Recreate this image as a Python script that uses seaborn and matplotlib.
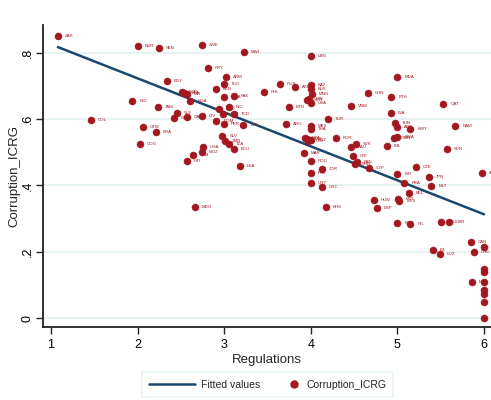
import numpy as np
import pandas as pd
import seaborn as sns
import matplotlib.pyplot as plt
from matplotlib.lines import Line2D
from matplotlib.legend_handler import HandlerLine2D

# regulations score (x), ICRG corruption (y), country code
regulations = [1.08, 2.00, 2.25, 2.74, 3.23, 4.00, 2.81, 3.02, 3.00, 2.34,
               2.51, 2.54, 2.57, 2.90, 3.00, 3.11, 2.61, 1.94, 2.24, 2.45,
               2.42, 2.57, 2.74, 1.46, 2.06, 2.21, 2.03, 3.46, 3.64, 3.82,
               4.00, 4.00, 4.01, 3.98, 4.00, 3.95, 3.75, 2.94, 3.05, 2.99,
               2.91, 3.00, 3.22, 3.71, 4.00, 4.00, 4.20, 2.98, 3.01, 3.05,
               3.11, 2.75, 2.74, 2.64, 2.57, 3.18, 2.66, 3.92, 3.97, 3.95,
               4.00, 4.00, 4.00, 4.13, 4.13, 4.17, 5.00, 4.66, 4.93, 4.46,
               5.53, 4.92, 4.97, 4.99, 5.15, 5.67, 4.29, 4.96, 5.00, 4.88,
               5.57, 4.46, 4.52, 4.49, 4.53, 4.51, 4.67, 5.21, 5.00, 5.36,
               5.98, 5.08, 5.39, 5.13, 4.73, 5.01, 5.02, 4.76, 5.00, 5.15,
               5.50, 5.59, 5.85, 6.00, 5.41, 5.49, 5.88, 6.00, 6.00, 5.86,
               6.00, 6.00, 6.00, 6.00, 6.00, 3.11, 3.93, 4.00]
corruption = [0.851, 0.821, 0.814, 0.824, 0.803, 0.791, 0.753, 0.728, 0.706, 0.716,
              0.681, 0.680, 0.676, 0.691, 0.668, 0.670, 0.656, 0.654, 0.636, 0.620,
              0.602, 0.605, 0.609, 0.597, 0.577, 0.560, 0.525, 0.681, 0.706, 0.698,
              0.703, 0.690, 0.675, 0.662, 0.648, 0.658, 0.636, 0.630, 0.637, 0.617,
              0.594, 0.585, 0.582, 0.585, 0.579, 0.570, 0.599, 0.548, 0.535, 0.525,
              0.509, 0.515, 0.500, 0.492, 0.475, 0.460, 0.336, 0.497, 0.535, 0.540,
              0.475, 0.439, 0.408, 0.449, 0.396, 0.334, 0.728, 0.680, 0.668, 0.640,
              0.645, 0.620, 0.587, 0.575, 0.571, 0.579, 0.542, 0.542, 0.545, 0.519,
              0.509, 0.515, 0.524, 0.490, 0.472, 0.464, 0.452, 0.457, 0.434, 0.425,
              0.437, 0.406, 0.398, 0.378, 0.356, 0.358, 0.353, 0.331, 0.287, 0.284,
              0.291, 0.291, 0.230, 0.215, 0.205, 0.192, 0.200, 0.147, 0.140, 0.108,
              0.108, 0.084, 0.074, 0.049, 0.000, 0.617, 0.542, 0.537]
country = ['ZAR', 'NER', 'SEN', 'ZWE', 'MWI', 'LBN', 'PRY', 'ARM', 'TGO', 'EGY',
           'BGD', 'BFA', 'MLI', 'KEN', 'UGA', 'PAK', 'NGA', 'IND', 'JAM', 'SLE',
           'CMR', 'GAB', 'CIV', 'COL', 'GTM', 'BRA', 'COG', 'PHL', 'RUS', 'AZE',
           'KAZ', 'BLR', 'MNG', 'IRN', 'USA', 'SYR', 'BTN', 'HND', 'NIC', 'GIN',
           'DOM', 'PER', 'BOL', 'ARG', 'MEX', 'THA', 'TUR', 'SLV', 'ZMB', 'TZA',
           'ECU', 'GHA', 'MOZ', 'YEM', 'HTI', 'LKA', 'MDG', 'MAR', 'IDN', 'TTO',
           'ROU', 'POL', 'URY', 'JOR', 'GRC', 'BHS', 'MDA', 'CHN', 'ETH', 'VNM',
           'QAT', 'LVA', 'TUN', 'ARE', 'KWT', 'NAM', 'KOR', 'OMN', 'BWA', 'ITA',
           'SVN', 'SAU', 'SVK', 'CRI', 'PAN', 'BHR', 'CYP', 'CZE', 'ISR', 'JPN',
           'AUT', 'FRA', 'MLT', 'BEL', 'HUN', 'PRT', 'MYS', 'ESP', 'EST', 'IRL',
           'DEU', 'GBR', 'CAN', 'AUS', 'ISL', 'LUX', 'CHE', 'NOR', 'SWE', 'NLD',
           'DNK', 'FIN', 'SGP', 'NZL', 'HKG', 'TCD', 'DZA', 'KGZ']

df = pd.DataFrame({'Regulations': regulations, 'Corruption_ICRG': corruption, 'Country': country})

# linear fit, drawn from min to max regulations like Stata's lfit
slope, intercept = np.polyfit(df['Regulations'], df['Corruption_ICRG'], 1)
fit = pd.DataFrame({'Regulations': [df['Regulations'].min(), df['Regulations'].max()]})
fit['Fitted values'] = intercept + slope * fit['Regulations']

red = '#a3181f'
navy = '#1a476f'


# legend key with the dot pushed to the right end (stata puts it next to its label)
class RightMarker(HandlerLine2D):
    def get_xdata(self, legend, xdescent, ydescent, width, height, fontsize):
        x = [-xdescent + width - 6, -xdescent + width - 2]
        return x, x


sns.set_style('white')
plt.rcParams['font.family'] = ['Liberation Sans', 'DejaVu Sans']

fig = plt.figure(figsize=(4.91, 4.0), dpi=100)
ax = fig.add_axes([0.0876, 0.1825, 0.9124, 0.755])

for yv in [0, 0.2, 0.4, 0.6, 0.8]:
    ax.axhline(yv, color='#e3f0f1', lw=1.2, zorder=0)

sns.lineplot(data=fit, x='Regulations', y='Fitted values', color=navy, lw=1.8, ax=ax, zorder=2)
sns.scatterplot(data=df, x='Regulations', y='Corruption_ICRG', color=red, s=26,
                edgecolor=red, linewidth=0.3, ax=ax, zorder=3)
for _, r in df.iterrows():
    ax.annotate(r['Country'], (r['Regulations'], r['Corruption_ICRG']), xytext=(5, 0),
                textcoords='offset points', fontsize=3.2, color=red, va='center', zorder=3)

ax.set_xlim(0.908, 6.08)
ax.set_ylim(-0.027, 0.884)
ax.set_xticks([1, 2, 3, 4, 5, 6])
ax.set_yticks([0, 0.2, 0.4, 0.6, 0.8])
ax.set_yticklabels(['0', '.2', '.4', '.6', '.8'], rotation=90, va='center')
ax.tick_params(axis='both', direction='out', length=5, width=1, colors='#222222', labelsize=9,
               left=True, bottom=True, labelcolor='black')
ax.tick_params(axis='y', pad=1.5)
ax.set_xlabel('Regulations', fontsize=9.5, labelpad=2)
ax.set_ylabel('Corruption_ICRG', fontsize=9.5, labelpad=1)
for side in ['top', 'right']:
    ax.spines[side].set_visible(False)
for side in ['left', 'bottom']:
    ax.spines[side].set_color('#222222')
    ax.spines[side].set_linewidth(1.3)

line_key = Line2D([0], [0], color=navy, lw=1.8)
dot_key = Line2D([0], [0], marker='o', linestyle='none',
                 markerfacecolor=red, markeredgecolor=red, markersize=5)
leg = fig.legend([line_key, dot_key], ['Fitted values', 'Corruption_ICRG'], loc='lower center',
                 bbox_to_anchor=(0.545, 0.0), ncol=2, fontsize=7.5, frameon=True, fancybox=False,
                 handlelength=4.4, numpoints=1, columnspacing=-0.6, handletextpad=0.6,
                 borderpad=0.7, borderaxespad=0.3, handler_map={dot_key: RightMarker()})
leg.get_frame().set_edgecolor('#e3f0f1')
leg.get_frame().set_linewidth(1.2)

fig.savefig('out.png', dpi=100)
